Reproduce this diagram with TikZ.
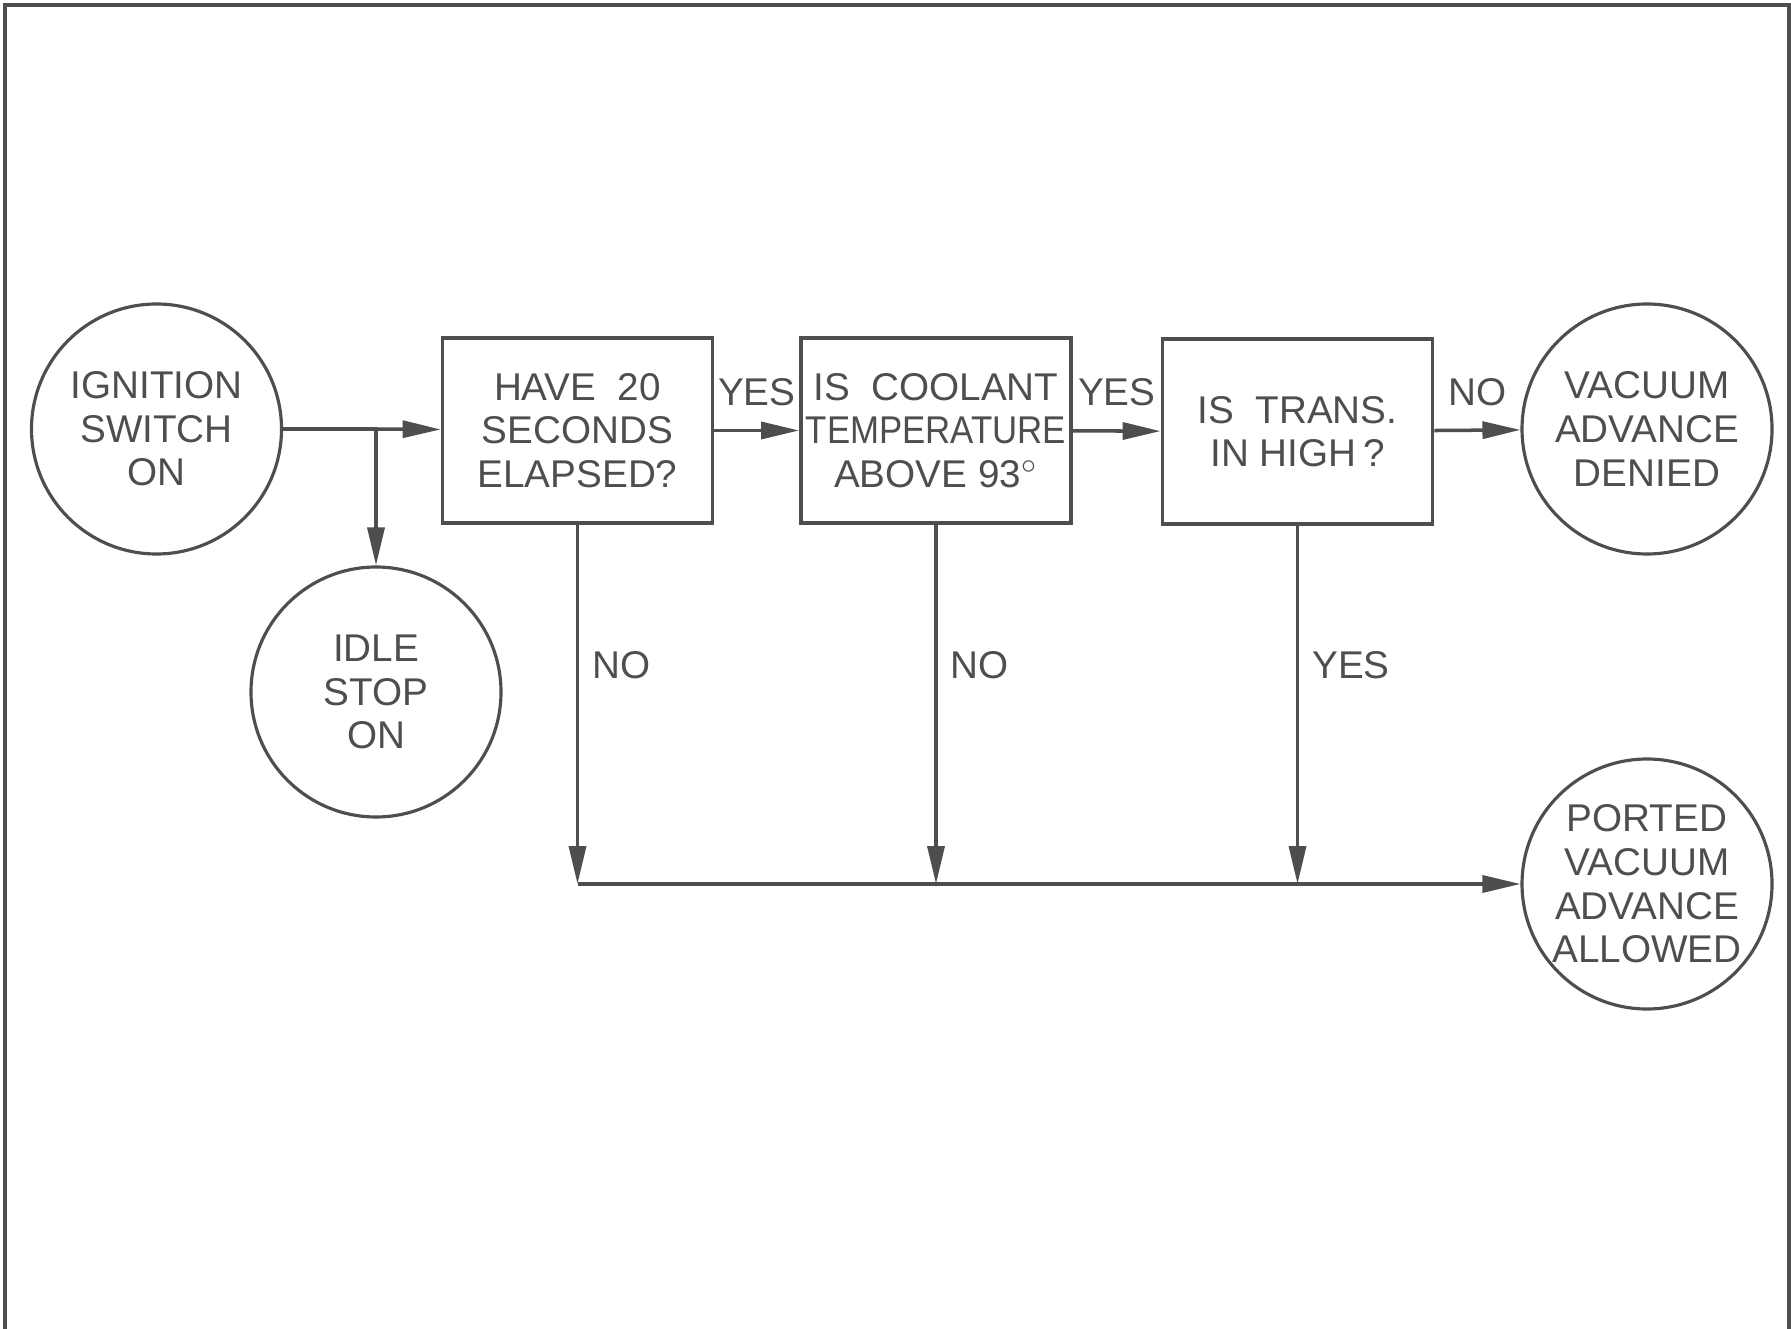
\documentclass[tikz,border=0pt]{standalone}
\usepackage{fontspec}
\setmainfont{Liberation Sans}
\usepackage{xcolor}
\usepackage{tikz}
\usetikzlibrary{arrows.meta,positioning}
\definecolor{ink}{RGB}{78,78,78}
\tikzset{
  state/.style    = {circle, draw=ink, line width=0.9pt, minimum size=2.5cm,
                     inner sep=0pt, align=center, text=ink},
  question/.style = {rectangle, draw=ink, line width=1.1pt, minimum width=2.7cm,
                     minimum height=1.85cm, inner sep=0pt, align=center, text=ink},
  flow/.style     = {-{Triangle[length=3.8mm,width=1.7mm]}, line width=1pt, ink},
  answer/.style   = {text=ink, inner sep=0pt},
  every node/.style = {font=\fontsize{11}{12.4}\selectfont},
}
\begin{document}
\begin{tikzpicture}
\useasboundingbox (0,0) rectangle (17.91,-13.29);
\draw[ink, line width=1.1pt] (0.05,-13.29) -- (0.05,-0.05) -- (17.89,-0.05) -- (17.89,-13.29);

% start and end states
\node[state] (ign)    at (1.565,-4.29) {IGNITION\\SWITCH\\ON};
\node[state] (idle)   at (3.76,-6.92)  {IDLE\\STOP\\ON};
\node[state] (denied) at (16.47,-4.29) {VACUUM\\ADVANCE\\DENIED};
\node[state] (ported) at (16.47,-8.84) {PORTED\\VACUUM\\ADVANCE\\ALLOWED};

% the three questions
\node[question] (secs) at (5.775,-4.305) {HAVE\ \ 20\\SECONDS\\ELAPSED?};
\node[question] (temp) at (9.36,-4.305)  {IS\ \ COOLANT\\\scalebox{0.9}[1]{TEMPERATURE}\\ABOVE 93$^{\circ}$};
\node[question] (gear) at (12.975,-4.315) {IS\ \ TRANS.\\IN HIGH\,?};

\coordinate (br) at (3.76,-4.29);
\coordinate (m1) at (secs.south |- ported);

\draw[line width=1pt, ink] (ign) -- (br);
\draw[flow] (br) -- (secs);
\draw[flow] (br) -- (idle);
\draw[flow] (secs) -- node[answer, above=2.3mm] {YES} (temp);
\draw[flow] (temp) -- node[answer, above=2.3mm] {YES} (gear);
\draw[flow] (gear) -- node[answer, above=2.3mm] {NO} (denied);

\draw[flow] (secs.south) -- node[answer, pos=0.39, right=1.3mm] {NO} (secs.south |- m1);
\draw[flow] (temp.south) -- node[answer, pos=0.39, right=1.3mm] {NO} (temp.south |- m1);
\draw[flow] (gear.south) -- node[answer, pos=0.39, right=1.3mm] {YES} (gear.south |- m1);
\draw[flow] (m1) -- (ported);
\end{tikzpicture}
\end{document}
